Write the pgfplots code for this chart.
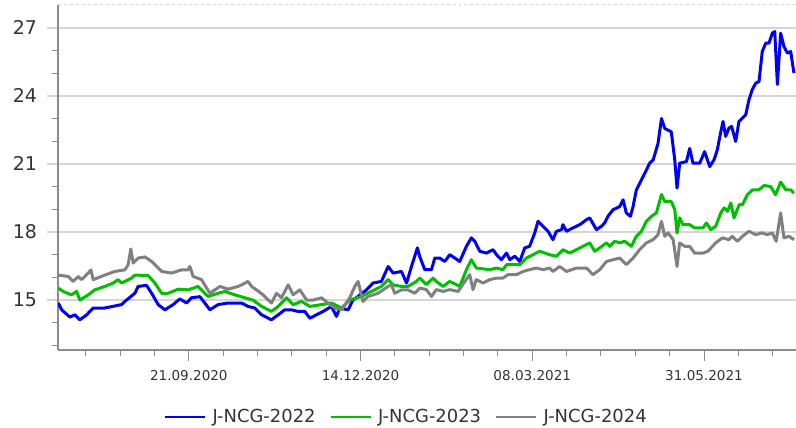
\documentclass[border=0pt]{standalone}
\usepackage{pgfplots}
\pgfplotsset{compat=1.18}
\usepackage{fontspec}
\setmainfont{DejaVu Sans}
\definecolor{cblue}{RGB}{0,0,245}
\definecolor{cgreen}{RGB}{0,190,0}
\definecolor{cgray}{RGB}{128,128,128}
\definecolor{gridc}{RGB}{214,214,214}
\definecolor{axc}{RGB}{140,140,140}
\definecolor{txt}{RGB}{51,51,51}
\begin{document}
\begin{tikzpicture}
\useasboundingbox (0,0) rectangle (796bp,428bp);
\begin{axis}[
  at={(58bp,78bp)}, anchor=south west,
  scale only axis, width=738bp, height=345bp,
  xmin=-64, xmax=297, ymin=12.8, ymax=28,
  axis x line*=bottom, axis y line*=left,
  axis line style={axc, line width=1.2bp, -},
  xtick={0,84,168,252},
  xticklabels={21.09.2020,14.12.2020,08.03.2021,31.05.2021},
  minor xtick={-50.4,-33.6,-16.8,16.8,33.6,50.4,67.2,100.8,117.6,134.4,151.2,184.8,201.6,218.4,235.2,268.8,285.6},
  ytick={15,18,21,24,27},
  minor ytick={13,14,16,17,19,20,22,23,25,26},
  tick align=outside,
  major tick length=10.5bp,
  minor tick length=5.5bp,
  x tick style={axc, line width=1bp},
  y tick style={axc, line width=1bp},
  major y tick style={gridc, line width=2bp},
  ymajorgrids,
  major grid style={gridc, line width=2bp},
  /pgf/number format/assume math mode=true,
  yticklabel style={font=\fontsize{19}{21}\selectfont, text=txt, xshift=-7bp},
  xticklabel style={font=\fontsize{13.6}{15}\selectfont, text=txt, yshift=-6bp},
  legend columns=3,
  legend style={draw=none, fill=none, at={(0.472,-0.194)}, anchor=center,
    font=\fontsize{18}{20}\selectfont, text=txt,
    /tikz/every even column/.append style={column sep=12bp}},
  legend image code/.code={\draw[#1, line width=2bp] (0bp,0bp) -- (40bp,0bp); \path (44bp,0bp);},
  clip=true,
]
\draw[gridc, dashed, line width=1bp] (rel axis cs:0,1) -- (rel axis cs:1,1);
\addplot[cblue, line width=3bp, line join=round] coordinates {
(-63.9,14.87)(-62.2,14.57)(-58.2,14.25)(-55.7,14.35)(-53.3,14.13)(-50.0,14.35)(-46.8,14.65)(-41.1,14.65)(-32.9,14.8)(-31.3,14.94)(-26.4,15.3)(-24.8,15.6)(-20.7,15.65)(-18.2,15.3)(-15.0,14.8)(-11.7,14.57)(-7.7,14.8)(-4.4,15.05)(-1.1,14.87)(1.3,15.1)(5.4,15.15)(7.8,14.87)(10.3,14.57)(14.3,14.8)(19.2,14.87)(25.8,14.87)(29.0,14.72)(32.3,14.65)(35.6,14.35)(40.4,14.13)(43.7,14.35)(46.9,14.57)(50.2,14.57)(53.4,14.5)(56.7,14.5)(59.2,14.2)(62.4,14.35)(65.7,14.5)(69.8,14.72)(72.2,14.28)(73.8,14.65)(77.9,14.57)(80.3,15.0)(82.8,15.16)(86.9,15.45)(90.1,15.75)(94.2,15.82)(97.5,16.48)(99.9,16.19)(104.0,16.26)(106.5,15.75)(108.9,16.48)(111.8,17.3)(113.0,16.9)(115.4,16.34)(118.7,16.34)(120.3,16.85)(122.7,16.85)(125.2,16.7)(127.6,17.0)(130.1,16.85)(132.5,16.7)(135.8,17.37)(138.2,17.74)(139.9,17.59)(142.3,17.15)(145.6,17.07)(148.8,17.22)(150.5,17.0)(152.9,16.78)(155.4,17.07)(157.0,16.78)(159.4,16.93)(161.9,16.7)(164.3,17.3)(166.7,17.37)(169.2,17.96)(170.8,18.47)(173.3,18.25)(175.7,18.03)(178.1,17.66)(179.8,18.03)(182.3,18.1)(183.0,18.32)(184.7,18.03)(187.9,18.18)(191.2,18.32)(194.5,18.54)(196.1,18.62)(199.4,18.1)(201.8,18.25)(203.4,18.4)(205.0,18.69)(207.5,18.98)(210.8,19.12)(212.4,19.42)(214.0,18.84)(216.0,18.69)(217.3,19.12)(218.9,19.85)(222.2,20.44)(223.8,20.73)(225.4,21.03)(227.1,21.17)(229.5,21.9)(231.2,23.0)(232.8,22.56)(236.0,22.41)(237.7,21.17)(238.8,19.93)(240.1,21.03)(243.4,21.1)(245.0,21.68)(246.6,21.03)(249.9,21.03)(252.3,21.54)(254.8,20.88)(256.9,21.18)(258.5,21.62)(260.1,22.36)(261.3,22.87)(262.6,22.21)(264.2,22.58)(265.5,22.65)(267.5,21.99)(269.1,22.87)(270.8,23.02)(272.4,23.16)(274.0,23.83)(275.6,24.27)(277.3,24.56)(278.9,24.63)(280.5,25.95)(282.2,26.32)(283.8,26.32)(285.4,26.76)(286.6,26.83)(287.9,24.5)(289.5,26.76)(291.1,26.17)(292.8,25.88)(294.4,25.95)(296.0,25.0)
};
\addlegendentry{J-NCG-2022}
\addplot[cgreen, line width=3bp, line join=round] coordinates {
(-63.9,15.53)(-61.5,15.38)(-57.4,15.23)(-54.9,15.38)(-53.3,15.0)(-49.2,15.23)(-46.0,15.45)(-41.1,15.6)(-37.0,15.75)(-34.6,15.9)(-32.9,15.75)(-28.0,15.97)(-26.4,16.1)(-19.9,16.08)(-16.6,15.75)(-13.3,15.3)(-10.1,15.3)(-5.2,15.48)(-0.3,15.45)(4.5,15.6)(9.4,15.16)(14.3,15.3)(17.6,15.38)(22.5,15.23)(27.4,15.1)(31.4,15.0)(35.6,14.72)(40.4,14.5)(43.7,14.72)(47.8,15.1)(51.0,14.8)(55.1,14.94)(59.2,14.72)(64.9,14.8)(69.8,14.87)(74.7,14.65)(78.7,15.0)(84.5,15.16)(89.3,15.38)(94.2,15.6)(97.5,15.9)(99.9,15.67)(104.0,15.6)(107.2,15.6)(111.3,15.82)(113.0,15.97)(116.2,15.68)(119.5,15.97)(121.1,15.82)(124.4,15.6)(127.6,15.82)(130.9,15.68)(132.5,15.6)(135.8,16.34)(138.2,16.78)(140.6,16.41)(147.2,16.34)(150.5,16.41)(153.7,16.34)(155.4,16.56)(161.9,16.56)(165.1,16.85)(168.4,17.0)(171.6,17.15)(176.5,17.0)(179.8,16.93)(183.0,17.22)(186.3,17.07)(189.6,17.22)(196.1,17.52)(198.5,17.15)(201.0,17.3)(204.3,17.52)(205.9,17.37)(208.3,17.59)(210.8,17.52)(213.2,17.59)(216.5,17.37)(218.9,17.81)(221.4,18.03)(223.8,18.47)(226.3,18.69)(228.7,18.84)(231.2,19.65)(232.8,19.34)(236.0,19.34)(237.7,18.98)(238.8,17.95)(240.1,18.62)(241.7,18.32)(245.0,18.32)(247.4,18.18)(251.5,18.18)(253.2,18.4)(255.3,18.1)(257.7,18.25)(260.2,18.84)(261.8,19.06)(263.5,18.91)(265.1,19.28)(266.7,18.62)(269.2,19.2)(270.8,19.2)(273.2,19.64)(275.7,19.86)(278.9,19.86)(281.4,20.05)(284.6,20.0)(287.0,19.64)(289.5,20.2)(292.0,19.86)(294.4,19.86)(296.0,19.71)
};
\addlegendentry{J-NCG-2023}
\addplot[cgray, line width=3bp, line join=round] coordinates {
(-63.9,16.1)(-59.0,16.04)(-56.6,15.82)(-54.1,16.04)(-52.5,15.9)(-49.2,16.19)(-47.9,16.33)(-46.8,15.9)(-41.1,16.1)(-36.2,16.26)(-31.3,16.33)(-29.7,16.55)(-28.4,17.25)(-27.2,16.63)(-24.8,16.85)(-21.5,16.9)(-18.2,16.7)(-13.3,16.26)(-8.5,16.19)(-3.6,16.33)(-0.3,16.33)(0.5,16.48)(2.1,16.04)(6.2,15.9)(10.3,15.3)(15.2,15.6)(19.2,15.48)(24.1,15.6)(25.8,15.67)(29.0,15.82)(30.7,15.6)(33.1,15.45)(36.3,15.23)(40.4,14.87)(42.9,15.3)(45.3,15.1)(48.6,15.67)(51.0,15.23)(54.3,15.45)(57.6,15.0)(60.8,15.0)(64.9,15.1)(68.1,14.87)(71.4,14.65)(74.7,14.57)(78.7,15.1)(81.2,15.6)(82.8,15.82)(85.2,14.94)(87.7,15.16)(92.6,15.3)(97.5,15.6)(99.1,15.67)(100.7,15.3)(104.0,15.45)(107.2,15.45)(110.5,15.3)(113.0,15.53)(116.2,15.46)(118.7,15.16)(121.1,15.46)(124.4,15.38)(127.6,15.46)(131.7,15.38)(135.0,15.82)(137.4,16.12)(139.0,15.46)(140.6,15.9)(143.9,15.75)(147.2,15.9)(150.5,15.97)(153.7,15.97)(156.1,16.12)(160.2,16.12)(163.5,16.26)(166.7,16.34)(170.0,16.41)(173.3,16.34)(176.5,16.41)(178.1,16.26)(181.4,16.48)(184.7,16.26)(189.6,16.41)(194.5,16.41)(197.7,16.12)(201.0,16.34)(204.3,16.7)(207.5,16.78)(210.8,16.85)(214.0,16.56)(217.3,16.85)(220.5,17.22)(223.8,17.52)(227.1,17.66)(229.5,17.88)(231.2,18.47)(232.8,17.81)(234.4,17.96)(236.9,17.66)(238.8,16.48)(240.1,17.52)(242.5,17.37)(245.0,17.37)(247.4,17.07)(251.5,17.07)(253.9,17.15)(257.7,17.52)(261.0,17.74)(264.2,17.66)(265.8,17.81)(268.3,17.59)(270.8,17.81)(274.0,18.03)(277.3,17.88)(280.5,17.96)(282.9,17.88)(285.4,17.96)(287.3,17.59)(289.5,18.84)(291.1,17.74)(293.5,17.81)(296.0,17.66)
};
\addlegendentry{J-NCG-2024}
\end{axis}
\end{tikzpicture}
\end{document}
